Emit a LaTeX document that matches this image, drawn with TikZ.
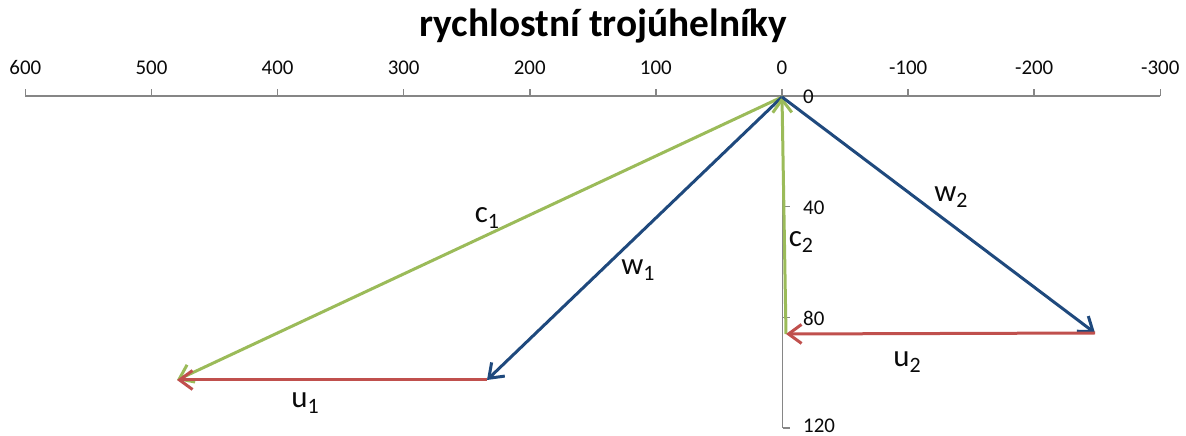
\documentclass[tikz,border=0pt]{standalone}
\usepackage{fontspec}
\setmainfont{Carlito}
\usetikzlibrary{arrows.meta}
\definecolor{xgreen}{RGB}{155,187,89}
\definecolor{xblue}{RGB}{31,73,125}
\definecolor{xred}{RGB}{192,80,77}
\definecolor{axgray}{RGB}{134,134,134}
\definecolor{txt}{RGB}{10,10,10}
\newcommand{\sbs}[1]{\raisebox{-6bp}{\fontsize{22}{22}\selectfont #1}}
\begin{document}
\begin{tikzpicture}[x=1bp,y=-1bp,
  vec/.style={line width=3bp,-{Straight Barb[length=13bp,width=19bp,line width=3bp]}},
  axis/.style={draw=axgray,line width=1.5bp},
  ticklab/.style={text=txt,inner sep=0pt,font=\fontsize{21}{21}\selectfont},
  veclab/.style={text=txt,inner sep=0pt,font=\fontsize{31}{31}\selectfont},
  titlelab/.style={text=black,inner sep=0pt,font=\fontsize{39.5}{39.5}\selectfont\bfseries}]
\useasboundingbox (0,0) rectangle (1186,436);
\clip (0,0) rectangle (1186,436);
% title
\node[titlelab,anchor=base] (title) at (603.5,37) {rychlostní trojúhelníky};
% horizontal axis
\coordinate (hl) at (25,96);
\coordinate (hr) at (1160,96);
\draw[axis] (hl) -- (hr);
\foreach \v in {600,500,400,300,200,100,0,-100,-200,-300}{
  \pgfmathsetmacro{\xx}{782-1.2611*\v}
  \coordinate (ht\v) at (\xx,96);
  \draw[axis] (ht\v) -- ++(0,-7);
  \node[ticklab,anchor=base] (hx\v) at (\xx,75) {\v};
}
% vertical axis
\coordinate (vt) at (782.5,96);
\coordinate (vb) at (782.5,428);
\draw[axis] (vt) -- (vb);
\foreach \v in {40,80,120}{
  \pgfmathsetmacro{\yy}{96+2.767*\v}
  \coordinate (vtk\v) at (782.5,\yy);
  \draw[axis] (vtk\v) -- ++(7,0);
}
\foreach \v/\yy in {0/97,40/207.7,80/318.4,120/426}{
  \node[ticklab,anchor=west] (vx\v) at (803,\yy) {\v};
}
% vector points
\coordinate (O) at (782,97);
\coordinate (A) at (177,380);
\coordinate (B) at (487,380);
\coordinate (C) at (786,334);
\coordinate (D) at (1095,333);
% vectors
\draw[vec,xgreen] (O) -- (A);
\draw[vec,xblue] (O) -- (B);
\draw[vec,xred] (B) -- (A);
\draw[vec,xgreen] (C) -- (O);
\draw[vec,xblue] (O) -- (D);
\draw[vec,xred] (D) -- (C);
% labels
\node[veclab] (lc1) at (487,218) {c\sbs{1}};
\node[veclab] (lw1) at (638,270) {w\sbs{1}};
\node[veclab] (lu1) at (305,403) {u\sbs{1}};
\node[veclab] (lc2) at (801,242) {c\sbs{2}};
\node[veclab] (lw2) at (951,197) {w\sbs{2}};
\node[veclab] (lu2) at (907,362) {u\sbs{2}};
\end{tikzpicture}
\end{document}
